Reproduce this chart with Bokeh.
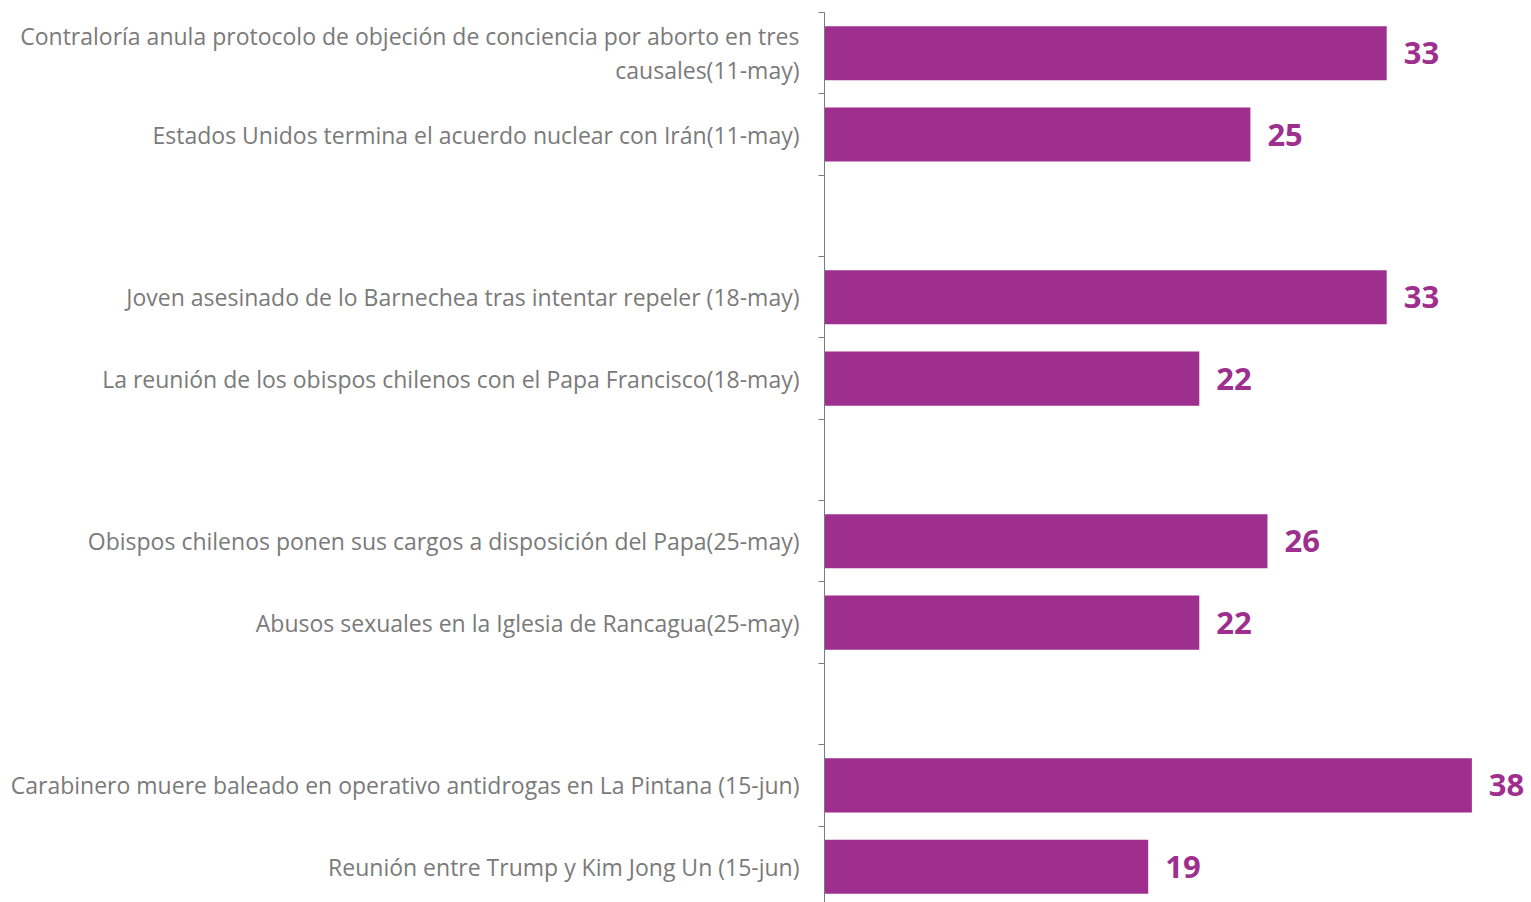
from bokeh.plotting import figure
from bokeh.models import Range1d, FixedTicker, LabelSet, ColumnDataSource
from bokeh.core.properties import value
from bokeh.embed import file_html
from bokeh.resources import INLINE

# --- data ---
events = [
    "Contraloría anula protocolo de objeción de conciencia por aborto en tres\ncausales(11-may)",
    "Estados Unidos termina el acuerdo nuclear con Irán(11-may)",
    "Joven asesinado de lo Barnechea tras intentar repeler (18-may)",
    "La reunión de los obispos chilenos con el Papa Francisco(18-may)",
    "Obispos chilenos ponen sus cargos a disposición del Papa(25-may)",
    "Abusos sexuales en la Iglesia de Rancagua(25-may)",
    "Carabinero muere baleado en operativo antidrogas en La Pintana (15-jun)",
    "Reunión entre Trump y Kim Jong Un (15-jun)",
]
values = [33, 25, 33, 22, 26, 22, 38, 19]
group_sizes = [2, 2, 2, 2]

# slot layout: each group followed by one empty slot
ypos = []
slot = 0
for gi, n in enumerate(group_sizes):
    for k in range(n):
        ypos.append(slot + 0.5)
        slot += 1
    if gi < len(group_sizes) - 1:
        slot += 1
n_slots = slot  # 11
boundaries = list(range(0, n_slots + 1))

BAR = "#9e2f8e"
GREY = "#7a7a7a"

p = figure(width=1531, height=902, output_backend="svg", toolbar_location=None,
           x_range=Range1d(0, 41.5), y_range=Range1d(n_slots - 0.06, 0),
           min_border_left=824, min_border_right=0, min_border_top=12, min_border_bottom=0)
p.outline_line_color = None
p.xgrid.visible = False
p.ygrid.visible = False
p.xaxis.visible = False

src = ColumnDataSource(dict(y=ypos, v=values, lab=[str(v) for v in values]))
p.hbar(y="y", left=0, right="v", height=0.665, source=src, fill_color=BAR, line_color=None)

labels = LabelSet(x="v", y="y", text="lab", source=src, x_offset=17, y_offset=0,
                  text_baseline="middle", text_align="left", text_color=BAR,
                  text_font=value("Open Sans"), text_font_style="bold", text_font_size="31px")
p.add_layout(labels)

ax = p.yaxis[0]
ax.ticker = FixedTicker(ticks=ypos, minor_ticks=boundaries)
ax.major_label_overrides = {y: e for y, e in zip(ypos, events)}
ax.axis_line_color = GREY
ax.axis_line_width = 1
ax.major_tick_line_color = None
ax.major_tick_out = 0
ax.major_tick_in = 0
ax.minor_tick_line_color = GREY
ax.minor_tick_out = 6
ax.minor_tick_in = 0
ax.major_label_standoff = 19
ax.major_label_text_font = "Open Sans"
ax.major_label_text_font_size = "23px"
ax.major_label_text_color = GREY
ax.major_label_text_line_height = 1.05

open("out.html", "w").write(file_html(p, INLINE))
